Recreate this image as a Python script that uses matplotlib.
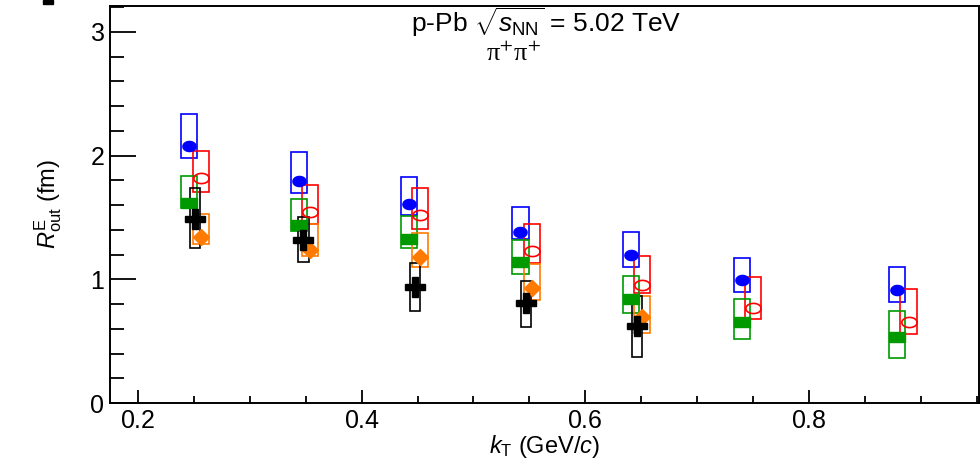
import numpy as np
import matplotlib
matplotlib.use("Agg")
import matplotlib.pyplot as plt
from matplotlib.patches import Rectangle
from matplotlib.ticker import MultipleLocator, FuncFormatter

plt.rcParams["font.family"] = ["Liberation Sans", "DejaVu Sans"]
plt.rcParams["mathtext.fontset"] = "custom"
plt.rcParams["mathtext.rm"] = "Liberation Sans"
plt.rcParams["mathtext.it"] = "Liberation Sans:italic"
plt.rcParams["mathtext.bf"] = "Liberation Sans:bold"

# ─────────────────────────────────────────────
# DATA
# ─────────────────────────────────────────────
kt_main   = [0.246, 0.344, 0.442, 0.542, 0.641, 0.740, 0.879]   # blue / green
kt_shift  = [0.256, 0.354, 0.452, 0.552, 0.651, 0.750, 0.889]   # red / orange
kt_black  = [0.251, 0.348, 0.448, 0.547, 0.646]

blue_val = [2.08, 1.795, 1.606, 1.385, 1.196, 0.994, 0.913]
blue_lo  = [1.98, 1.695, 1.52, 1.323, 1.10, 0.90, 0.819]
blue_hi  = [2.34, 2.03, 1.83, 1.587, 1.385, 1.17, 1.097]

red_val = [1.82, 1.547, 1.52, 1.231, 0.954, 0.77, 0.652]
red_lo  = [1.71, 1.447, 1.41, 1.134, 0.892, 0.677, 0.555]
red_hi  = [2.04, 1.76, 1.735, 1.447, 1.188, 1.016, 0.92]

green_val = [1.62, 1.44, 1.326, 1.142, 0.84, 0.657, 0.531]
green_lo  = [1.574, 1.39, 1.25, 1.04, 0.73, 0.517, 0.361]
green_hi  = [1.835, 1.647, 1.51, 1.318, 1.027, 0.84, 0.744]

orange_val = [1.34, 1.24, 1.18, 0.932, 0.698]
orange_lo  = [1.285, 1.188, 1.10, 0.833, 0.568]
orange_hi  = [1.53, 1.447, 1.377, 1.124, 0.865]

black_val = [1.49, 1.32, 0.94, 0.806, 0.622]
black_lo  = [1.25, 1.137, 0.746, 0.612, 0.374]
black_hi  = [1.735, 1.50, 1.13, 0.989, 0.865]

# ─────────────────────────────────────────────
# STYLE
# ─────────────────────────────────────────────
BLUE, RED, GREEN, ORANGE = "#0000ff", "#ff0000", "#009a00", "#ff7a00"
BOX_HW, BLACK_HW = 0.0072, 0.0045

t = np.linspace(0, 2 * np.pi, 60)
ellipse = np.column_stack([1.3 * np.cos(t), np.sin(t)])
ellipse_wide = np.column_stack([1.5 * np.cos(t), np.sin(t)])
flat_rect = [(-1.6, -1), (1.6, -1), (1.6, 1), (-1.6, 1), (-1.6, -1)]


def draw_boxes(ax, x, lo, hi, hw, color):
    for xi, l, h in zip(x, lo, hi):
        ax.add_patch(Rectangle((xi - hw, l), 2 * hw, h - l, fill=False,
                               edgecolor=color, linewidth=1.2, zorder=3))


fig = plt.figure(figsize=(9.8, 4.61), dpi=100)
ax = fig.add_axes([110 / 980, 58 / 461, (979 - 110) / 980, (403 - 6) / 461])

n5 = len(orange_val)
draw_boxes(ax, kt_main, blue_lo, blue_hi, BOX_HW, BLUE)
draw_boxes(ax, kt_shift, red_lo, red_hi, BOX_HW, RED)
draw_boxes(ax, kt_main, green_lo, green_hi, BOX_HW, GREEN)
draw_boxes(ax, kt_shift[:n5], orange_lo, orange_hi, BOX_HW, ORANGE)
draw_boxes(ax, kt_black, black_lo, black_hi, BLACK_HW, "black")

ax.plot(kt_main, blue_val, ls="none", marker=ellipse, ms=9.5, color=BLUE, zorder=4)
ax.plot(kt_shift, red_val, ls="none", marker=ellipse_wide, ms=11, mfc="none",
        mec=RED, mew=1.2, zorder=4)
ax.plot(kt_main, green_val, ls="none", marker=flat_rect, ms=11.5, color=GREEN, zorder=4)
ax.plot(kt_shift[:n5], orange_val, ls="none", marker="D", ms=8, color=ORANGE, zorder=4)
ax.plot(kt_black, black_val, ls="none", marker="P", ms=15, color="black", zorder=5)

# ── axes ──
ax.set_xlim(0.175, 0.952)
ax.set_ylim(0, 3.21)
ax.xaxis.set_major_locator(MultipleLocator(0.2))
ax.xaxis.set_minor_locator(MultipleLocator(0.05))
ax.yaxis.set_major_locator(MultipleLocator(1))
ax.yaxis.set_minor_locator(MultipleLocator(0.2))
ax.xaxis.set_major_formatter(FuncFormatter(lambda v, p: f"${v:.1f}$"))
ax.yaxis.set_major_formatter(FuncFormatter(lambda v, p: f"${v:.0f}$"))

for s in ax.spines.values():
    s.set_linewidth(1.4)
ax.tick_params(axis="both", which="both", direction="in", width=1.3,
               top=False, right=False)
ax.tick_params(axis="y", which="major", length=19, pad=4, labelsize=18)
ax.tick_params(axis="y", which="minor", length=10)
ax.tick_params(axis="x", which="major", length=9.5, pad=4, labelsize=18)
ax.tick_params(axis="x", which="minor", length=5)

ax.set_xlabel(r"$k_{\rm T}$ (GeV/$c$)", fontsize=17)
ax.xaxis.set_label_coords(0.5, -0.076)
ax.xaxis.label.set_va("top")
ax.set_ylabel(r"$R^{\rm E}_{\rm out}$ (fm)", fontsize=17)
ax.yaxis.set_label_coords(-0.053, 0.5)

fig.text(546 / 980, (461 - 32) / 461, r"p-Pb $\sqrt{s_{\rm NN}}$ = 5.02 TeV",
         ha="center", va="baseline", fontsize=19)
fig.text(514 / 980, (461 - 61) / 461, r"π$^{+}$π$^{+}$", ha="center",
         va="baseline", fontsize=19, family=["Liberation Serif", "DejaVu Serif"],
         math_fontfamily="stix")

# small dark mark left over in the top-left corner
fig.patches.append(Rectangle((43 / 980, 457 / 461), 10 / 980, 4 / 461,
                             transform=fig.transFigure, color="black"))

fig.savefig("out.png", dpi=100)
